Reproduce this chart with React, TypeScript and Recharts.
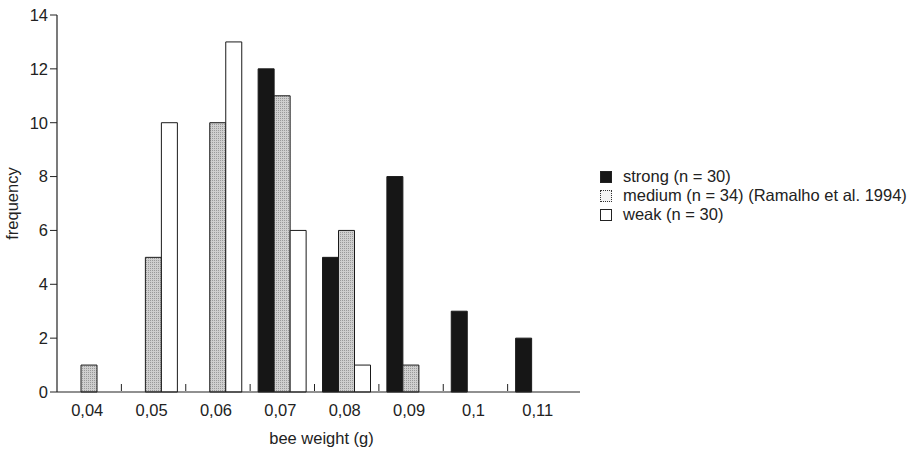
import { BarChart, Bar, XAxis, YAxis } from 'recharts'

const weights = ['0,04', '0,05', '0,06', '0,07', '0,08', '0,09', '0,1', '0,11']
const strong = [null, null, null, 12, 5, 8, 3, 2]
const medium = [1, 5, 10, 11, 6, 1, null, null]
const weak = [null, 10, 13, 6, 1, null, null, null]
const yTicks = [0, 2, 4, 6, 8, 10, 12, 14]

const SERIES = [
  { key: 'strong', label: 'strong (n = 30)', fill: '#161616' },
  { key: 'medium', label: 'medium (n = 34) (Ramalho et al. 1994)', fill: 'url(#stipple)' },
  { key: 'weak', label: 'weak (n = 30)', fill: '#ffffff' },
]

const data = weights.map((w, i) => ({
  weight: w,
  strong: strong[i],
  medium: medium[i],
  weak: weak[i],
}))

const FONT = '"Liberation Sans", Arial, sans-serif'
const CHART_W = 923
const PLOT_LEFT = 57
const PLOT_RIGHT = 580
const PAD_RIGHT = 8
const BAND = (PLOT_RIGHT - PLOT_LEFT - PAD_RIGHT) / weights.length

// label under the category, plus the small upward tick at the left edge of the band
function WeightTick(props: any) {
  const { x, y, payload, index } = props
  return (
    <g>
      {index > 0 && (
        <line x1={x - BAND / 2} x2={x - BAND / 2} y1={y - 9} y2={y - 16} stroke="#222" strokeWidth={1} />
      )}
      <text x={x - 2} y={y + 16} textAnchor="middle" fontSize={16.5} fill="#222" fontFamily={FONT}>
        {payload.value}
      </text>
    </g>
  )
}

function LegendBox() {
  return (
    <div style={{ position: 'absolute', left: 600, top: 167, fontFamily: FONT, fontSize: 16.5, color: '#222', whiteSpace: 'nowrap' }}>
      {SERIES.map((s) => (
        <div key={s.key} style={{ display: 'flex', alignItems: 'center', height: 19 }}>
          <span
            style={{
              display: 'inline-block',
              width: 10,
              height: 10,
              marginRight: 11,
              border: s.key === 'medium' ? '1px dotted #333' : '1px solid #222',
              background: s.key === 'strong' ? '#161616' : s.key === 'medium' ? '#f4f4f4' : '#fff',
            }}
          />
          {s.label}
        </div>
      ))}
    </div>
  )
}

export default function App() {
  return (
    <div style={{ position: 'absolute', left: 0, top: 0, width: CHART_W, height: 451, background: '#fff' }}>
      <BarChart
        width={CHART_W}
        height={451}
        data={data}
        margin={{ top: 15, right: CHART_W - PLOT_RIGHT, bottom: 29, left: 0 }}
        barSize={16}
        barGap={0}
      >
        <defs>
          <pattern id="stipple" width={2} height={2} patternUnits="userSpaceOnUse">
            <rect width={2} height={2} fill="#cfcfcf" />
            <rect width={1} height={1} fill="#9a9a9a" />
          </pattern>
        </defs>
        <XAxis
          dataKey="weight"
          height={30}
          padding={{ left: 0, right: PAD_RIGHT }}
          tickLine={false}
          axisLine={{ stroke: '#222', strokeWidth: 1.2 }}
          tick={<WeightTick />}
          interval={0}
          label={{ value: 'bee weight (g)', position: 'insideBottom', offset: -22, dx: 3, fill: '#222', fontSize: 16.5, fontFamily: FONT }}
        />
        <XAxis xAxisId="top" orientation="top" dataKey="weight" height={0} tick={false} tickLine={false} axisLine={{ stroke: '#222', strokeWidth: 1.2 }} />
        <YAxis
          domain={[0, 14]}
          ticks={yTicks}
          width={PLOT_LEFT}
          interval={0}
          tickSize={7}
          tickLine={{ stroke: '#222' }}
          axisLine={{ stroke: '#222', strokeWidth: 1.2 }}
          tick={{ fill: '#222', fontSize: 16.5, fontFamily: FONT }}
          label={{ value: 'frequency', angle: -90, position: 'insideLeft', offset: 12, fill: '#222', fontSize: 16.5, fontFamily: FONT, style: { textAnchor: 'middle' } }}
        />
        <YAxis yAxisId="right" orientation="right" width={0} tick={false} tickLine={false} axisLine={{ stroke: '#222', strokeWidth: 1.2 }} />
        {SERIES.map((s) => (
          <Bar
            key={s.key}
            dataKey={s.key}
            name={s.label}
            fill={s.fill}
            stroke="#1a1a1a"
            strokeWidth={1}
            isAnimationActive={false}
          />
        ))}
      </BarChart>
      <LegendBox />
    </div>
  )
}
